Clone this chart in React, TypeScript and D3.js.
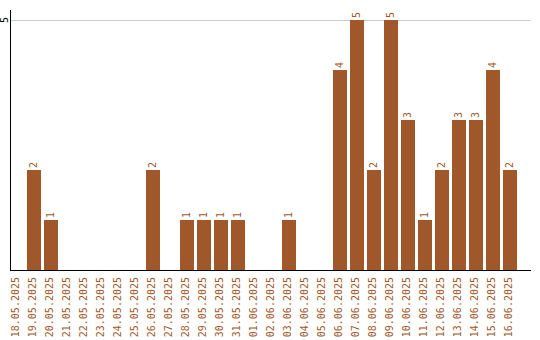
import React from "react";
import * as d3 from "d3";

const dates = [
  "18.05.2025", "19.05.2025", "20.05.2025", "21.05.2025", "22.05.2025", "23.05.2025",
  "24.05.2025", "25.05.2025", "26.05.2025", "27.05.2025", "28.05.2025", "29.05.2025",
  "30.05.2025", "31.05.2025", "01.06.2025", "02.06.2025", "03.06.2025", "04.06.2025",
  "05.06.2025", "06.06.2025", "07.06.2025", "08.06.2025", "09.06.2025", "10.06.2025",
  "11.06.2025", "12.06.2025", "13.06.2025", "14.06.2025", "15.06.2025", "16.06.2025",
];
const counts = [0, 2, 1, 0, 0, 0, 0, 0, 2, 0, 1, 1, 1, 1, 0, 0, 1, 0, 0, 4, 5, 2, 5, 3, 1, 2, 3, 3, 4, 2];
const yTicks = [5];

const W = 540;
const H = 340;
const left = 10;
const right = 531;
const top = 10;
const bottom = 270;
const color = "#a0582a";
const font = "'DejaVu Sans Mono', monospace";

export default function App() {
  const x = d3.scaleBand<string>().domain(dates).range([left, 517]).paddingInner(3 / 17).paddingOuter(0);
  const y = d3.scaleLinear().domain([0, 5.2]).range([bottom, top]);
  return (
    <svg width={W} height={H} style={{ position: "absolute", left: 0, top: 0 }}>
      <rect width={W} height={H} fill="#fff" />
      {yTicks.map((t) => (
        <g key={t}>
          <line x1={left} x2={right} y1={y(t) + 0.5} y2={y(t) + 0.5} stroke="#cccccc" strokeWidth={1} />
          <text
            transform={`translate(${left - 5},${y(t)}) rotate(-90)`}
            textAnchor="middle"
            dominantBaseline="middle"
            fontFamily={font}
            fontSize={10}
            fill="#000"
          >
            {t}
          </text>
        </g>
      ))}
      {dates.map((d, i) => {
        const v = counts[i];
        const bx = x(d)!;
        const cx = bx + x.bandwidth() / 2;
        return (
          <g key={d}>
            {v > 0 && (
              <>
                <rect x={bx} y={y(v)} width={x.bandwidth()} height={bottom - y(v)} fill={color} />
                <text
                  transform={`translate(${cx},${y(v) - 2}) rotate(-90)`}
                  textAnchor="start"
                  dominantBaseline="middle"
                  fontFamily={font}
                  fontSize={10}
                  fill={color}
                >
                  {v}
                </text>
              </>
            )}
            <text
              transform={`translate(${cx - 1},${bottom + 7}) rotate(-90)`}
              textAnchor="end"
              dominantBaseline="middle"
              fontFamily={font}
              fontSize={10}
              fill={color}
            >
              {d}
            </text>
          </g>
        );
      })}
      <line x1={left + 0.5} x2={left + 0.5} y1={top} y2={bottom + 1} stroke="#000" strokeWidth={1} />
      <line x1={left} x2={right} y1={bottom + 0.5} y2={bottom + 0.5} stroke="#000" strokeWidth={1} />
    </svg>
  );
}
